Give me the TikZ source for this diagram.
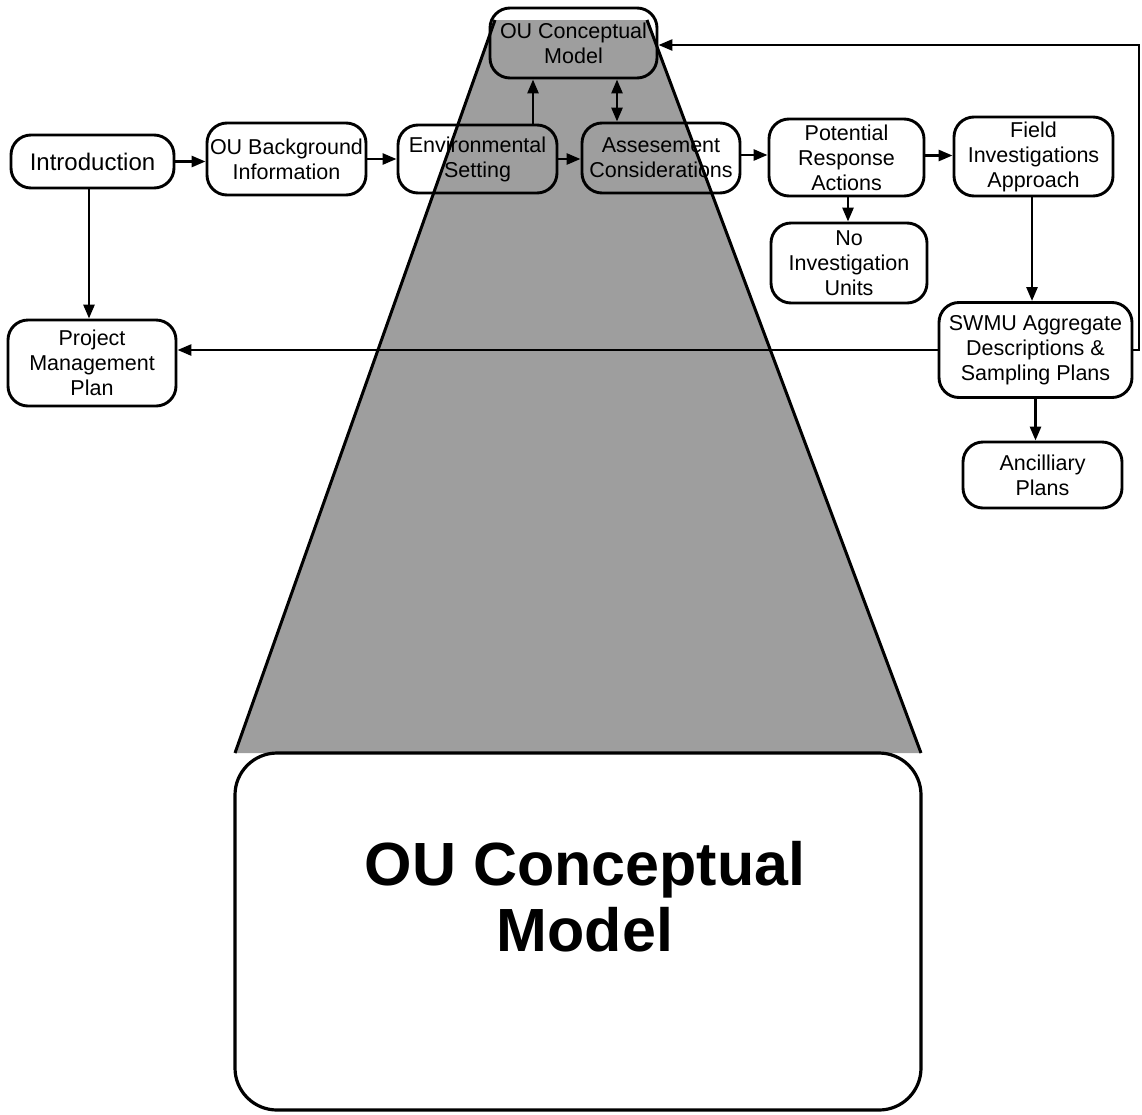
\documentclass[tikz,border=0pt]{standalone}
\usepackage{fontspec}
\setmainfont{Liberation Sans}
\usetikzlibrary{arrows.meta}
\begin{document}
\begin{tikzpicture}[x=1pt,y=-1pt,
  box/.style={draw,line width=2.9pt,rounded corners=20pt,align=center,inner sep=0pt,
    font=\fontsize{21.5}{25}\selectfont},
  arr/.style={line width=2.7pt,-{Triangle[length=14pt,width=11pt]}},
  darr/.style={line width=2.7pt,{Triangle[length=14pt,width=11pt]}-{Triangle[length=14pt,width=11pt]}},
  cone/.style={fill=black!38},
  coneedge/.style={line width=3pt}]
\useasboundingbox (0,0) rectangle (1142,1114);

% shaded cone widening from the small model box down to the large one
\fill[cone] (495,20) -- (647,20) -- (921,753) -- (235,753) -- cycle;
\draw[coneedge] (495,20) -- (235,753) (647,20) -- (921,753);

% large model box
\node[draw,fill=white,line width=3.2pt,rounded corners=42pt,
  minimum width=686pt,minimum height=357pt,inner sep=0pt] (big) at (578,931.5) {};
\node[font=\bfseries\fontsize{61}{66}\selectfont,align=center] (bigtxt) at (585,897)
  {OU Conceptual\\Model};

% process boxes
\node[box,minimum width=163pt,minimum height=53pt,font=\fontsize{24}{28}\selectfont]
  (intro) at (92.5,161.5) {Introduction};
\node[box,minimum width=159pt,minimum height=72pt] (bg) at (286.5,159) {OU Background\\Information};
\node[box,minimum width=159pt,minimum height=68pt] (env) at (477.5,159) {Environmental\\Setting};
\node[box,minimum width=158pt,minimum height=70pt] (assess) at (661,158) {Assesement\\Considerations};
\node[box,minimum width=155pt,minimum height=77pt] (pra) at (846.5,157.5) {Potential\\Response\\Actions};
\node[box,minimum width=159pt,minimum height=79pt] (fia) at (1033.5,156.5) {Field\\Investigations\\Approach};
\node[box,minimum width=156pt,minimum height=80pt] (niu) at (849,263) {No\\Investigation\\Units};
\node[box,minimum width=167pt,minimum height=70pt] (oucm) at (573.5,43) {OU Conceptual\\Model};
\node[box,minimum width=168pt,minimum height=86pt] (pmp) at (92,363) {Project\\Management\\Plan};
\node[box,minimum width=193pt,minimum height=95pt] (swmu) at (1035.5,350) {SWMU Aggregate\\Descriptions \&\\Sampling Plans};
\node[box,minimum width=159pt,minimum height=66pt] (anc) at (1042.5,475) {Ancilliary\\Plans};

% connectors
\draw[arr] (intro.east) -- (intro.east -| bg.west);
\draw[arr] (bg.east) -- (bg.east -| env.west);
\draw[arr] (env.east) -- (env.east -| assess.west);
\draw[arr] ([yshift=3pt]assess.east) -- ([yshift=3pt]assess.east -| pra.west);
\draw[arr] ([yshift=2pt]pra.east) -- ([yshift=2pt]pra.east -| fia.west);
\draw[arr] ([xshift=1.5pt]pra.south) -- ([xshift=1.5pt]pra.south |- niu.north);
\draw[arr] ([xshift=-1.5pt]fia.south) -- ([xshift=-1.5pt]fia.south |- swmu.north);
\draw[arr] (swmu.south) -- (swmu.south |- anc.north);
\draw[arr] ([xshift=-3.5pt]intro.south) -- ([xshift=-3.5pt]intro.south |- pmp.north);
\draw[arr] (swmu.west) -- (swmu.west -| pmp.east);
\coordinate (loopturn) at (1139,45);
\draw[arr] (swmu.east) -| (loopturn) -- (loopturn -| oucm.east);
\draw[arr] ([xshift=55.5pt]env.north) -- ([xshift=55.5pt]env.north |- oucm.south);
\draw[darr] ([xshift=-44pt]assess.north) -- ([xshift=-44pt]assess.north |- oucm.south);
\end{tikzpicture}
\end{document}
